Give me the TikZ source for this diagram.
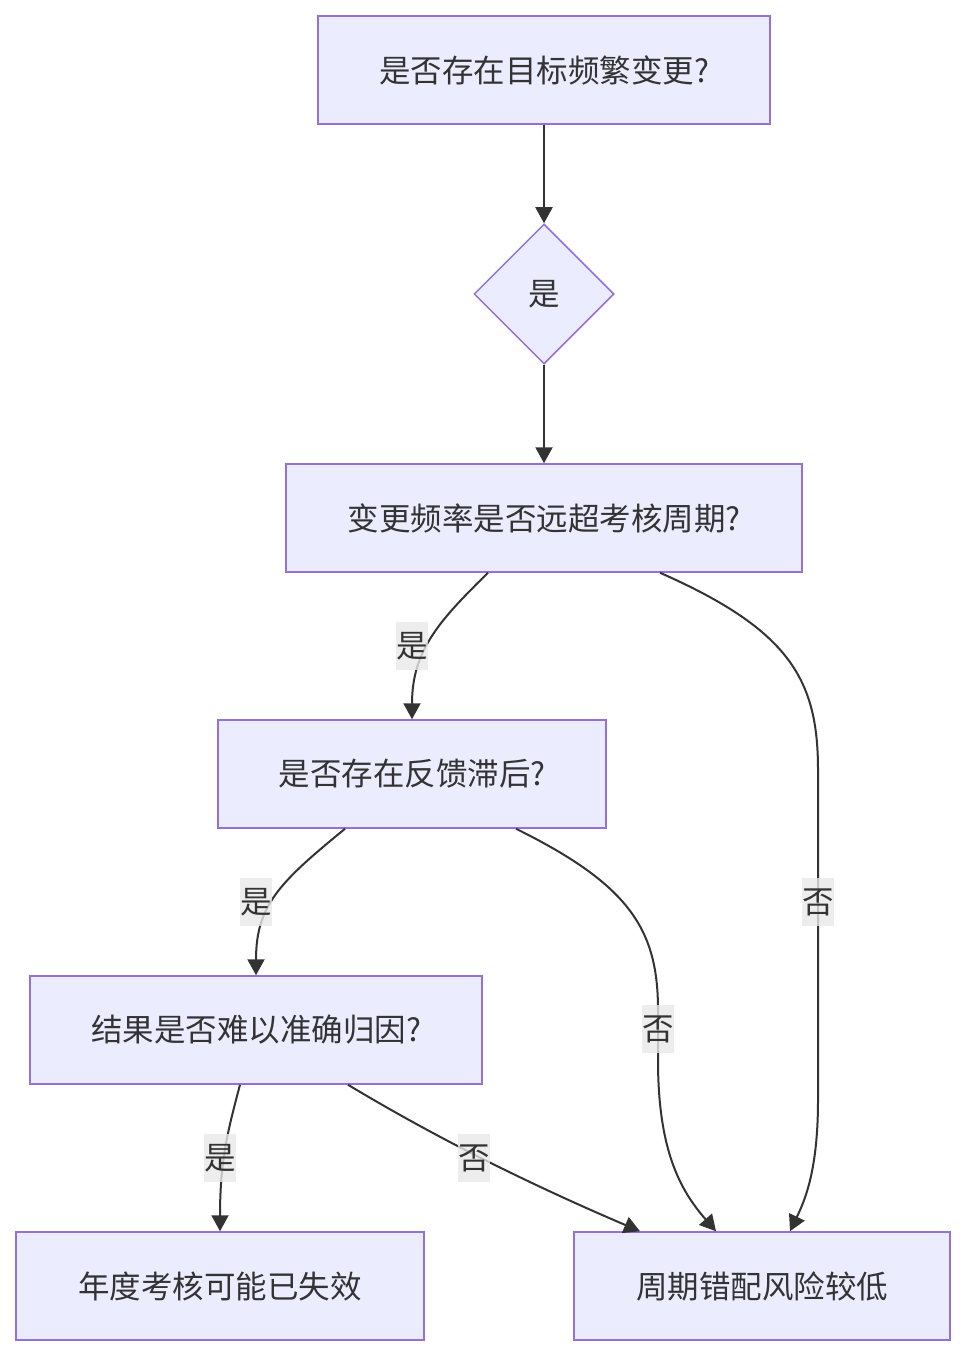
\documentclass[tikz,border=0pt]{standalone}
\usepackage{fontspec}
\setmainfont{Noto Sans CJK SC}
\usetikzlibrary{shapes.geometric,arrows.meta}
\definecolor{nodefill}{HTML}{ECECFF}
\definecolor{nodeline}{HTML}{9370DB}
\definecolor{ink}{HTML}{333333}
\definecolor{lblbg}{HTML}{E8E8E8}
\begin{document}
\begin{tikzpicture}[x=1pt,y=-1pt,
  box/.style={draw=nodeline,fill=nodefill,line width=1.5pt,minimum height=108pt,inner sep=0pt,text=ink,font=\fontsize{31.5}{36}\selectfont},
  dia/.style={diamond,draw=nodeline,fill=nodefill,line width=1.5pt,minimum width=140pt,minimum height=140pt,inner sep=0pt,text=ink,font=\fontsize{31.5}{36}\selectfont},
  lbl/.style={fill=lblbg,fill opacity=0.8,text opacity=1,text=ink,minimum width=32pt,minimum height=48pt,inner sep=0pt,font=\fontsize{31.5}{36}\selectfont},
  conn/.style={draw=ink,line width=2pt,-{Triangle[length=16pt,width=17pt]}}
]
\useasboundingbox (0,0) rectangle (965,1356);
\node[box,minimum width=452pt] (A) at (544,70) {是否存在目标频繁变更?};
\node[dia] (D) at (544,294) {是};
\node[box,minimum width=516pt] (B) at (544,518) {变更频率是否远超考核周期?};
\node[box,minimum width=388pt] (C) at (412,774) {是否存在反馈滞后?};
\node[box,minimum width=452pt] (E) at (256,1030) {结果是否难以准确归因?};
\node[box,minimum width=408pt] (F) at (220,1286) {年度考核可能已失效};
\node[box,minimum width=376pt] (G) at (762,1286) {周期错配风险较低};

\draw[conn] (A.south) -- (D.north);
\draw[conn] (D.south) -- (B.north);
\draw[conn] ([xshift=-56pt]B.south) .. controls (440,620) and (412,650) .. (C.north);
\draw[conn] ([xshift=116pt]B.south) .. controls (790,630) and (818,680) .. (818,770) -- (818,1100) .. controls (818,1170) and (805,1200) .. ([xshift=28pt]G.north);
\draw[conn] ([xshift=-67pt]C.south) .. controls (280,882) and (256,905) .. (E.north);
\draw[conn] ([xshift=104pt]C.south) .. controls (630,885) and (658,930) .. (658,1010) -- (658,1060) .. controls (658,1150) and (680,1190) .. ([xshift=-46pt]G.north);
\draw[conn] ([xshift=-16pt]E.south) .. controls (228,1130) and (220,1160) .. (F.north);
\draw[conn] ([xshift=92pt]E.south) .. controls (430,1134) and (520,1180) .. ([xshift=-122pt]G.north);

\node[lbl] (l1) at (412,646) {是};
\node[lbl] (l2) at (818,902) {否};
\node[lbl] (l3) at (256,902) {是};
\node[lbl] (l4) at (658,1029) {否};
\node[lbl] (l5) at (220,1158) {是};
\node[lbl] (l6) at (474,1158) {否};
\end{tikzpicture}
\end{document}
